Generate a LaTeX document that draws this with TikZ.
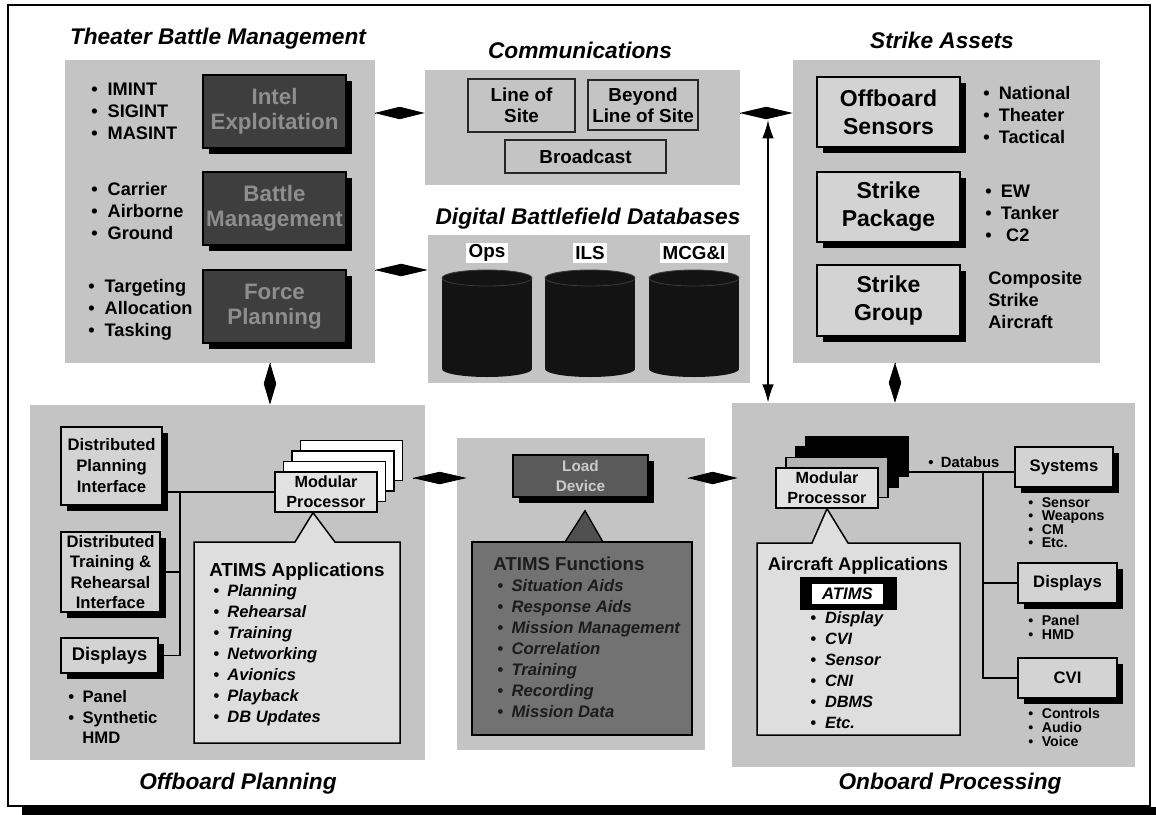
\documentclass[tikz,border=0pt]{standalone}
\usepackage{fontspec}
\setmainfont{Liberation Sans}
\usetikzlibrary{arrows.meta,shadows,calc}

\definecolor{pan}{HTML}{C4C4C4}
\definecolor{darkfill}{HTML}{3E3E3E}
\definecolor{embossed}{HTML}{8E8E8E}
\definecolor{lite}{HTML}{D3D3D3}
\definecolor{callfill}{HTML}{DEDEDE}
\definecolor{procfill}{HTML}{E2E2E2}
\definecolor{procgrey}{HTML}{B4B4B4}
\definecolor{fnbox}{HTML}{727272}
\definecolor{fntext}{HTML}{1C1C1C}
\definecolor{tri}{HTML}{505050}
\definecolor{ldbox}{HTML}{5A5A5A}
\definecolor{ldtext}{HTML}{CACACA}
\definecolor{cylfill}{HTML}{131313}
\definecolor{cylrim}{HTML}{3A3A3A}

\newcommand\fsz[2]{\fontsize{#1}{#2}\selectfont}
% one node per bulleted line: name, x, first baseline, step, options, gap, items
\newcommand\bulletrows[7]{%
  \foreach \t [count=\i] in {#7}{%
    \node[anchor=base west,#5] (#1\i) at (#2,{#3+(\i-1)*#4}) {\textbullet\hspace{#6}\t};}}
% one node per plain line: name, x, first baseline, step, options, items
\newcommand\plainrows[6]{%
  \foreach \t [count=\i] in {#6}{%
    \node[anchor=base west,#5] (#1\i) at (#2,{#3+(\i-1)*#4}) {\t};}}

\begin{document}
\begin{tikzpicture}[x=0.6pt,y=-0.6pt,
  every node/.style={inner sep=0pt},
  wh/.style 2 args={minimum width=#1*0.6pt,minimum height=#2*0.6pt},
  panel/.style={fill=pan},
  ttl/.style={font=\fsz{13.6}{16}\bfseries\itshape,anchor=base},
  shd/.style={drop shadow={shadow xshift=3.4pt,shadow yshift=-3.4pt,fill=black,opacity=1}},
  darkbox/.style={fill=darkfill,draw=black,line width=0.9pt,text=embossed,
    font=\fsz{13.4}{15}\bfseries,align=center,shd},
  strikebox/.style={fill=lite,draw=black,line width=0.9pt,
    font=\fsz{13.8}{16.8}\bfseries,align=center,shd},
  commbox/.style={draw=black!85,line width=0.9pt,font=\fsz{11.3}{12.6}\bfseries,align=center},
  dblabel/.style={fill=white,font=\fsz{11.3}{13}\bfseries,minimum height=12pt,inner xsep=1.5pt},
  sidebox/.style={fill=lite,draw=black,line width=0.9pt,font=\fsz{10}{12.6}\bfseries,
    align=center,shd},
  procbox/.style={draw=black,line width=0.8pt,font=\fsz{9.7}{12}\bfseries,align=center,
    wh={102}{40}},
  callout/.style={fill=callfill,draw=black,line width=0.9pt},
  bus/.style={line width=1.1pt},
  blt/.style={font=\fsz{10.9}{13}\bfseries},
  % diamond link: one kite spanning the whole gap (length, half length)
  dia/.style 2 args={line width=0.5pt,-{Kite[length=#1,width=7.5pt,inset=#2]}},
  dbl/.style={line width=1.1pt,{Latex[length=11pt,width=7pt]}-{Latex[length=11pt,width=7pt]}}
]
\useasboundingbox (0,0) rectangle (1156,815);

% page frame and its shadow
\fill[black] (22,807) rectangle (1156,815);
\draw[line width=1.2pt,fill=white] (8,5) rectangle (1150,806);

% grey panels
\node[panel,wh={310}{303}] (tbm) at (220,211.5) {};
\node[panel,wh={315}{115}] (comm) at (582.5,127.5) {};
\node[panel,wh={322}{148}] (dbf) at (589,309) {};
\node[panel,wh={307}{303}] (strike) at (946.5,211.5) {};
\node[panel,wh={395}{355}] (offp) at (227.5,582.5) {};
\node[panel,wh={248}{312}] (load) at (581,594) {};
\node[panel,wh={403}{364}] (onb) at (933.5,585) {};

% panel titles
\node[ttl] (tbmT) at (218,44) {Theater Battle Management};
\node[ttl] (commT) at (580,58) {Communications};
\node[ttl] (dbfT) at (588,224) {Digital Battlefield Databases};
\node[ttl] (strikeT) at (942,48) {Strike Assets};
\node[ttl] (offpT) at (238,789) {Offboard Planning};
\node[ttl] (onbT) at (950,789) {Onboard Processing};

% Theater Battle Management
\node[darkbox,wh={143}{73}] (intel) at (274.5,111.5) {Intel\\Exploitation};
\node[darkbox,wh={143}{73}] (battle) at (274.5,208.5) {Battle\\Management};
\node[darkbox,wh={143}{73}] (force) at (274.5,306.5) {Force\\Planning};
\bulletrows{intA}{91}{95}{22}{blt}{0.55em}{IMINT,SIGINT,MASINT}
\bulletrows{batA}{91}{195}{22}{blt}{0.55em}{Carrier,Airborne,Ground}
\bulletrows{forA}{88}{292}{22}{blt}{0.55em}{Targeting,Allocation,Tasking}

% Communications
\node[commbox,wh={107}{53}] (los) at (521.5,105.5) {Line of\\Site};
\node[commbox,wh={110}{50}] (blos) at (643,105) {Beyond\\Line of Site};
\node[commbox,wh={161}{33}] (bcast) at (585.5,156.5) {Broadcast};

% Digital Battlefield Databases
\foreach \cx/\nm/\lbl in {487/ops/Ops,590/ils/ILS,694/mcg/MCG\&I}{
  \fill[cylfill] (\cx-45,278) rectangle (\cx+45,369);
  \fill[cylfill] (\cx,369) ellipse [x radius=27pt,y radius=4.8pt];
  \filldraw[fill=cylfill,draw=cylrim,line width=0.5pt] (\cx,278) ellipse [x radius=27pt,y radius=4.8pt];
  \node[dblabel] (\nm) at (\cx,253) {\lbl};
}

% Strike Assets
\node[strikebox,wh={143}{70}] (osens) at (888.5,112) {Offboard\\Sensors};
\node[strikebox,wh={143}{70}] (spack) at (888.5,207) {Strike\\Package};
\node[strikebox,wh={143}{71}] (sgrp) at (888.5,300.5) {Strike\\Group};
\bulletrows{osA}{983}{99}{22}{blt}{0.5em}{National,Theater,Tactical}
\bulletrows{spA}{985}{197}{22}{blt}{0.5em}{EW,Tanker,\hspace{0.3em}C2}
\plainrows{sgA}{988}{284}{22}{blt}{Composite,Strike,Aircraft}

% Offboard Planning
\node[sidebox,wh={101}{78}] (dpi) at (111.5,466) {Distributed\\Planning\\Interface};
\node[sidebox,wh={99}{80},font=\fsz{10}{12.2}\bfseries] (dtri) at (110.5,572)
  {Distributed\\Training \&\\Rehearsal\\Interface};
\node[sidebox,wh={97}{35},font=\fsz{11}{13}\bfseries] (odisp) at (109.5,655.5) {Displays};
\bulletrows{odA}{68}{702}{21}{font=\fsz{10}{12}\bfseries}{0.5em}{Panel,Synthetic}
\node[anchor=base west,font=\fsz{10}{12}\bfseries] (odA3) at (82,743) {HMD};

\foreach \k/\nm in {3/mpO3,2/mpO2,1/mpO1}
  \node[procbox,fill=white] (\nm) at ({326+8.5*\k},{492-10.5*\k}) {};
\node[procbox,fill=procfill] (mpO) at (326,492) {Modular\\Processor};

\coordinate (obus) at (180,0);
\draw[bus] (dpi.east |- mpO.west) -- (mpO.west);
\draw[bus] (obus |- mpO.west) -- (obus |- odisp.east) -- (odisp.east);
\draw[bus] (dtri.east) -- (obus |- dtri.east);

\draw[callout] (194,542) -- (295,542) -- ($(mpO.south)+(-13,0)$) -- (335,542)
  -- (400,542) -- (400,743) -- (194,743) -- cycle;
\node[anchor=base,font=\fsz{11.3}{13}\bfseries] (appsT) at (297,576) {ATIMS Applications};
\bulletrows{appI}{213}{596}{21}{font=\fsz{9.9}{12}\bfseries\itshape}{0.5em}
  {Planning,Rehearsal,Training,Networking,Avionics,Playback,DB Updates}

% Load device and ATIMS functions
\node[fill=ldbox,draw=black,line width=0.9pt,text=ldtext,font=\fsz{9.2}{11.5}\bfseries,
  align=center,wh={135}{42},shd] (ldev) at (580.5,476) {Load\\Device};
\node[fill=fnbox,draw=black,line width=0.9pt,wh={220}{193}] (fn) at (582,638.5) {};
\filldraw[fill=tri,draw=black,line width=0.8pt]
  (565,542) -- ($(ldev.south)+(4.5,13)$) -- (603,542) -- cycle;
\node[anchor=base west,font=\fsz{11.2}{13}\bfseries,text=fntext] (fnT) at (493,570) {ATIMS Functions};
\bulletrows{fnI}{497}{591}{21}{font=\fsz{10}{12}\bfseries\itshape,text=fntext}{0.5em}
  {Situation Aids,Response Aids,Mission Management,Correlation,Training,Recording,Mission Data}

% Onboard Processing
\node[procbox,fill=black] (mpN3) at (857,456.5) {};
\node[procbox,fill=black] (mpN2) at (847,467) {};
\node[procbox,fill=procgrey] (mpN1) at (837,477.5) {};
\node[procbox,fill=procfill] (mpN) at (827,488) {Modular\\Processor};

\node[sidebox,wh={98}{40}] (sys) at (1064,467) {Systems};
\node[sidebox,wh={99}{40}] (ndsp) at (1067.5,583) {Displays};
\node[sidebox,wh={99}{40}] (cvi) at (1067.5,678) {CVI};

\coordinate (nbus) at (983,472);
\draw[bus] (mpN3.east |- nbus) -- (sys.west |- nbus);
\draw[bus] (nbus) -- (nbus |- cvi.west) -- (cvi.west);
\draw[bus] (nbus |- ndsp.west) -- (ndsp.west);
\bulletrows{dbus}{928}{467}{0}{font=\fsz{8.9}{10}\bfseries}{0.5em}{Databus}

\bulletrows{sysI}{1028}{507}{13.5}{font=\fsz{8.5}{10}\bfseries}{0.6em}{Sensor,Weapons,CM,Etc.}
\bulletrows{dspI}{1028}{625}{14}{font=\fsz{8.5}{10}\bfseries}{0.6em}{Panel,HMD}
\bulletrows{cviI}{1028}{718}{14}{font=\fsz{8.5}{10}\bfseries}{0.6em}{Controls,Audio,Voice}

\draw[callout] (757,543) -- (812,543) -- (mpN.south) -- (848,543)
  -- (960,543) -- (960,735) -- (757,735) -- cycle;
\node[anchor=base,font=\fsz{11}{13}\bfseries] (acT) at (858,570) {Aircraft Applications};
\node[fill=black,wh={97}{33}] (atimsB) at (848.5,593.5) {};
\node[fill=white,wh={71}{20},font=\fsz{10}{12}\bfseries\itshape] (atimsW) at (847.5,594) {ATIMS};
\bulletrows{acI}{810}{623}{21}{font=\fsz{9.8}{12}\bfseries\itshape}{0.55em}
  {Display,CVI,Sensor,CNI,DBMS,Etc.}

% links between panels
\coordinate (yTop) at (0,113);
\coordinate (yMid) at (0,270);
\coordinate (yLow) at (0,478);
\coordinate (xL) at (270,0);
\coordinate (xR) at (895,0);
\coordinate (vt) at (768,120);
\draw[dia={30pt}{15pt}] (tbm.east |- yTop) -- (comm.west |- yTop);
\draw[dia={31.8pt}{15.9pt}] (tbm.east |- yMid) -- (dbf.west |- yMid);
\draw[dia={31.8pt}{15.9pt}] (comm.east |- yTop) -- (strike.west |- yTop);
\draw[dbl] (vt) -- (vt |- onb.north);
\draw[dia={25.2pt}{12.6pt}] (tbm.south -| xL) -- (offp.north -| xL);
\draw[dia={24pt}{12pt}] (strike.south -| xR) -- (onb.north -| xR);
\draw[dia={32.4pt}{16.2pt}] ($(offp.east |- yLow)+(-12,0)$) -- ($(load.west |- yLow)+(10,0)$);
\draw[dia={30pt}{15pt}] ($(load.east |- yLow)+(-17,0)$) -- ($(onb.west |- yLow)+(6,0)$);
\end{tikzpicture}
\end{document}
